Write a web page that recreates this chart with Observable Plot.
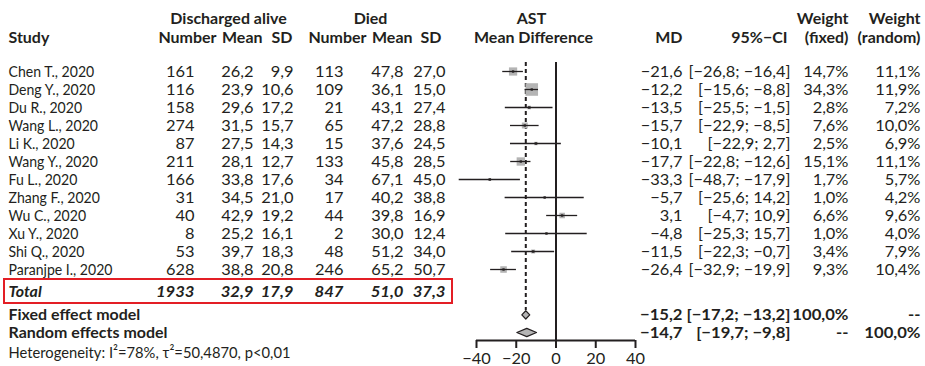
<!DOCTYPE html>
<html>
<head>
<meta charset="utf-8">
<script src="https://cdn.jsdelivr.net/npm/d3@7"></script>
<script src="https://cdn.jsdelivr.net/npm/@observablehq/plot@0.6"></script>
<style>
  html, body { margin: 0; padding: 0; background: #fff; }
</style>
</head>
<body>
<div id="chart"></div>
<script>
// ---------- data ----------
const studies = ["Chen T., 2020", "Deng Y., 2020", "Du R., 2020", "Wang L., 2020", "Li K., 2020", "Wang Y., 2020",
  "Fu L., 2020", "Zhang F., 2020", "Wu C., 2020", "Xu Y., 2020", "Shi Q., 2020", "Paranjpe I., 2020"];
const aliveN    = [161, 116, 158, 274, 87, 211, 166, 31, 40, 8, 53, 628];
const aliveMean = [26.2, 23.9, 29.6, 31.5, 27.5, 28.1, 33.8, 34.5, 42.9, 25.2, 39.7, 38.8];
const aliveSD   = [9.9, 10.6, 17.2, 15.7, 14.3, 12.7, 17.6, 21.0, 19.2, 16.1, 18.3, 20.8];
const diedN     = [113, 109, 21, 65, 15, 133, 34, 17, 44, 2, 48, 246];
const diedMean  = [47.8, 36.1, 43.1, 47.2, 37.6, 45.8, 67.1, 40.2, 39.8, 30.0, 51.2, 65.2];
const diedSD    = [27.0, 15.0, 27.4, 28.8, 24.5, 28.5, 45.0, 38.8, 16.9, 12.4, 34.0, 50.7];
const md        = [-21.6, -12.2, -13.5, -15.7, -10.1, -17.7, -33.3, -5.7, 3.1, -4.8, -11.5, -26.4];
const ciLow     = [-26.8, -15.6, -25.5, -22.9, -22.9, -22.8, -48.7, -25.6, -4.7, -25.3, -22.3, -32.9];
const ciHigh    = [-16.4, -8.8, -1.5, -8.5, 2.7, -12.6, -17.9, 14.2, 10.9, 15.7, -0.7, -19.9];
const wFixed    = [14.7, 34.3, 2.8, 7.6, 2.5, 15.1, 1.7, 1.0, 6.6, 1.0, 3.4, 9.3];
const wRandom   = [11.1, 11.9, 7.2, 10.0, 6.9, 11.1, 5.7, 4.2, 9.6, 4.0, 7.9, 10.4];

const totalLabel = "Total";
const totalValues = [1933, 32.9, 17.9, 847, 51.0, 37.3]; // aliveN, aliveMean, aliveSD, diedN, diedMean, diedSD

const models      = ["Fixed effect model", "Random effects model"];
const modelMD     = [-15.2, -14.7];
const modelLow    = [-17.2, -19.7];
const modelHigh   = [-13.2, -9.8];
const modelWFixed = [100.0, null];
const modelWRand  = [null, 100.0];

const heterogeneity = "Heterogeneity: I²=78%, τ²=50,4870, p<0,01";
const xTicks = [-40, -20, 0, 20, 40];

const headerTop = [
  {text: "Discharged alive", col: "aliveMid"}, {text: "Died", col: "diedMid"}, {text: "AST", col: "forestMid"},
  {text: "Weight", col: "wF"}, {text: "Weight", col: "wR"}];
const headerBottom = [
  {text: "Study", col: "study"}, {text: "Number", col: "hAN"}, {text: "Mean", col: "hAM"}, {text: "SD", col: "hAS"},
  {text: "Number", col: "hDN"}, {text: "Mean", col: "hDM"}, {text: "SD", col: "hDS"},
  {text: "Mean Difference", col: "forestMid2"}, {text: "MD", col: "md"}, {text: "95%−CI", col: "hCI"},
  {text: "(fixed)", col: "wF"}, {text: "(random)", col: "wR"}];

// ---------- layout (pixel positions of text columns, row positions) ----------
const COL = {
  study: [8, "start"], aN: [194, "end"], aM: [253, "end"], aS: [293, "end"],
  dN: [343, "end"], dM: [403, "end"], dS: [445, "end"],
  md: [682, "end"], ci: [790, "end"], wF: [848, "end"], wR: [920, "end"],
  aliveMid: [228, "middle"], diedMid: [370, "middle"], forestMid: [531, "middle"], forestMid2: [533, "middle"],
  hAN: [216, "end"], hAM: [262, "end"], hAS: [292, "end"], hDN: [366, "end"], hDM: [412, "end"], hDS: [441, "end"],
  hCI: [787, "end"]
};
const ROW = {hTop: -2.92, hBottom: -1.89, total: 12.25, fixed: 13.52, random: 14.5, het: 15.62, axis: 14.944, top: -0.5, dashEnd: 13.28};
const FONT = "Lato, 'Liberation Sans', sans-serif";
const FS = 16;
const INK = "#231f20";
const BOX_GRAY = "#b4b4b4";
// horizontal compression targets (sample string -> width in px) to imitate a condensed face
const CONDENSE = {
  name:    ["Paranjpe I., 2020", 104],
  het:     [heterogeneity, 282],
  num:     ["[−26,8; −16,4]", 102],
  bold:    ["Random effects model", 159],
  boldnum: ["[−17,2; −13,2]", 104]
};

// ---------- helpers ----------
const f1 = v => v.toFixed(1).replace(".", ",").replace("-", "−");
const pct = v => v == null ? "--" : f1(v) + "%";
const ci = (lo, hi) => `[${f1(lo)}; ${f1(hi)}]`;

const studyRows = studies.map((s, i) => ({
  row: i, study: s, aN: String(aliveN[i]), aM: f1(aliveMean[i]), aS: f1(aliveSD[i]),
  dN: String(diedN[i]), dM: f1(diedMean[i]), dS: f1(diedSD[i]),
  mdv: md[i], lo: ciLow[i], hi: ciHigh[i], md: f1(md[i]), ci: ci(ciLow[i], ciHigh[i]),
  wf: wFixed[i], wF: pct(wFixed[i]), wR: pct(wRandom[i])
}));
const totalRow = [{row: ROW.total, study: totalLabel, aN: String(totalValues[0]), aM: f1(totalValues[1]), aS: f1(totalValues[2]),
  dN: String(totalValues[3]), dM: f1(totalValues[4]), dS: f1(totalValues[5])}];
const modelRows = models.map((m, i) => ({
  row: i === 0 ? ROW.fixed : ROW.random, study: m, mdv: modelMD[i], lo: modelLow[i], hi: modelHigh[i],
  md: f1(modelMD[i]), ci: ci(modelLow[i], modelHigh[i]), wF: pct(modelWFixed[i]), wR: pct(modelWRand[i])
}));
const diamondH = 0.23;
const diamonds = modelRows.flatMap(d => [
  {m: d.study, x: d.lo, y: d.row}, {m: d.study, x: d.mdv, y: d.row - diamondH},
  {m: d.study, x: d.hi, y: d.row}, {m: d.study, x: d.mdv, y: d.row + diamondH}, {m: d.study, x: d.lo, y: d.row}]);

function textCols(data, keys, cls, opts = {}) {
  return keys.map(k => Plot.text(data, {
    frameAnchor: "left", dx: COL[k][0], textAnchor: COL[k][1], y: "row", text: k,
    fontSize: FS, fill: INK, lineAnchor: "middle", ariaDescription: (k === "study" ? cls[0] : cls[1]), ...opts
  }));
}
function headerCols(items, row) {
  return items.map(h => Plot.text([h], {
    frameAnchor: "left", dx: COL[h.col][0], textAnchor: COL[h.col][1], y: () => row, text: "text",
    fontSize: FS, fontWeight: "bold", fill: INK, lineAnchor: "middle", ariaDescription: "bold"
  }));
}

const redBox = (index, scales) => {
  const yc = scales.y(ROW.total);
  const g = d3.create("svg:g");
  g.append("rect").attr("x", 4).attr("y", yc - 12.5).attr("width", 448).attr("height", 24)
    .attr("fill", "none").attr("stroke", "#e31e25").attr("stroke-width", 2);
  return g.node();
};

const chart = Plot.plot({
  width: 925, height: 366,
  marginTop: 0, marginRight: 0, marginLeft: 0, marginBottom: 26,
  style: {fontFamily: FONT, fontSize: FS + "px", background: "#fff", color: INK},
  x: {domain: [-40, 40], range: [476, 635]},
  y: {domain: [0, 11], range: [71, 269], axis: null},
  r: {domain: [0, 34.3], range: [0, 7.1]},
  marks: [
    ...headerCols(headerTop, ROW.hTop),
    ...headerCols(headerBottom, ROW.hBottom),
    ...textCols(studyRows, ["study", "aN", "aM", "aS", "dN", "dM", "dS", "md", "ci", "wF", "wR"], ["name", "num"]),
    ...textCols(totalRow, ["study", "aN", "aM", "aS", "dN", "dM", "dS"], ["bold", "boldnum"], {fontWeight: "bold", fontStyle: "italic"}),
    ...textCols(modelRows, ["study", "md", "ci", "wF", "wR"], ["bold", "boldnum"], {fontWeight: "bold"}),
    Plot.text([heterogeneity], {frameAnchor: "left", dx: COL.study[0], textAnchor: "start", y: () => ROW.het,
      text: d => d, fontSize: FS, fill: INK, lineAnchor: "middle", ariaDescription: "het"}),
    redBox,
    // forest panel
    Plot.ruleX([0], {y1: ROW.top, y2: ROW.axis, stroke: INK, strokeWidth: 2}),
    Plot.ruleX([modelMD[0]], {y1: ROW.top, y2: ROW.dashEnd, stroke: INK, strokeWidth: 2, strokeDasharray: "4,3"}),
    Plot.dot(studyRows, {x: "mdv", y: "row", r: "wf", symbol: "square", fill: BOX_GRAY, stroke: null}),
    Plot.ruleY(studyRows, {y: "row", x1: "lo", x2: "hi", stroke: INK, strokeWidth: 1.3}),
    Plot.dot(studyRows, {x: "mdv", y: "row", r: 1.3, symbol: "square", fill: INK, stroke: null}),
    Plot.line(diamonds, {x: "x", y: "y", z: "m", fill: BOX_GRAY, stroke: INK, strokeWidth: 1.2}),
    Plot.ruleY([ROW.axis], {x1: xTicks[0], x2: xTicks[xTicks.length - 1], stroke: INK, strokeWidth: 2}),
    Plot.axisX({ticks: xTicks, tickSize: 8, tickPadding: 4, strokeWidth: 2, fontSize: FS, label: null, anchor: "bottom",
      stroke: INK, fill: INK, ariaDescription: "num"})
  ]
});
document.getElementById("chart").append(chart);

// imitate the condensed typeface: narrow each text via textLength (anchor position is kept)
function condense(svg) {
  const groups = Array.from(svg.querySelectorAll("g[aria-description]"));
  const scaleOf = {};
  for (const [cls, [sample, target]] of Object.entries(CONDENSE)) {
    let w = null;
    for (const g of groups) {
      if (g.getAttribute("aria-description") !== cls) continue;
      for (const t of g.querySelectorAll("text")) if (t.textContent === sample) { w = t.getComputedTextLength(); break; }
      if (w) break;
    }
    scaleOf[cls] = w ? target / w : 0.85;
  }
  for (const g of groups) {
    const s = scaleOf[g.getAttribute("aria-description")];
    if (!s) continue;
    for (const t of g.querySelectorAll("text")) {
      const w = t.getComputedTextLength();
      t.setAttribute("textLength", (w * s).toFixed(2));
      t.setAttribute("lengthAdjust", "spacingAndGlyphs");
    }
  }
}
condense(chart);
</script>
</body>
</html>
